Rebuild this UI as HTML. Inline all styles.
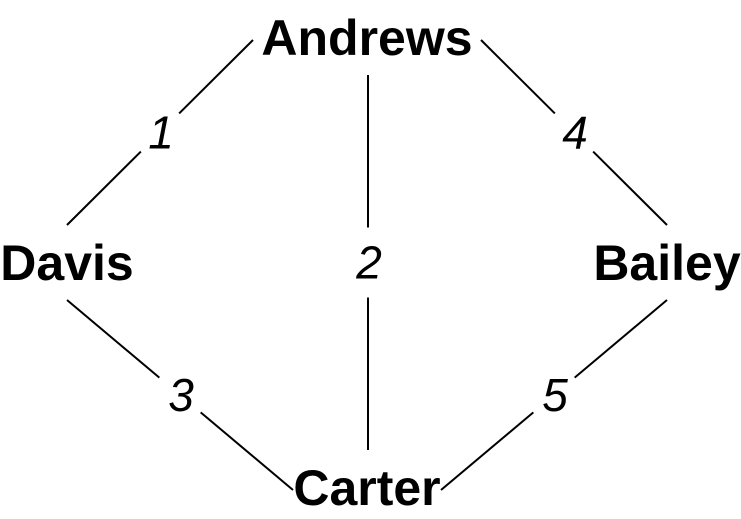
<!DOCTYPE html>
<html><head><meta charset="utf-8"><style>
html,body{margin:0;padding:0;background:#fff;}
svg{display:block;}
</style></head><body>
<svg id="g" width="741" height="519" viewBox="0 0 741 519" xmlns="http://www.w3.org/2000/svg"></svg>
<script>
const nodeNames = ["Andrews","Davis","Bailey","Carter"];
const nodeX = [367, 67, 667, 367];
const nodeY = [37, 262, 262, 487];
const edgeFrom = [0, 0, 0, 1, 2];
const edgeTo = [1, 3, 2, 3, 3];
const edgeWeights = ["1","2","4","3","5"];
const svg = document.getElementById('g');
const NS = "http://www.w3.org/2000/svg";
// anchor offset from node center, depending on direction to other node
function anchor(i, j){
  const dx = nodeX[j]-nodeX[i], dy = nodeY[j]-nodeY[i];
  const name = nodeNames[i];
  if (Math.abs(dx) < 1) return [nodeX[i]+1, nodeY[i] + (dy>0 ? 38 : -37)];
  if (name === "Andrews" || name === "Carter") {
    const ox = name === "Andrews" ? 114 : 74;
    return [nodeX[i] + Math.sign(dx)*ox, nodeY[i]+3];
  }
  return [nodeX[i], nodeY[i] + (dy>0 ? 38 : -37)];
}
for(let i=0;i<edgeFrom.length;i++){
  const a=edgeFrom[i], b=edgeTo[i];
  const p=anchor(a,b), q=anchor(b,a);
  const mx=(p[0]+q[0])/2, my=(p[1]+q[1])/2;
  const len=Math.hypot(q[0]-p[0],q[1]-p[1]);
  const ux=(q[0]-p[0])/len, uy=(q[1]-p[1])/len;
  const gap = Math.abs(ux) < 0.01 ? 35 : 27;
  [[p[0],p[1],mx-ux*gap,my-uy*gap],[mx+ux*gap,my+uy*gap,q[0],q[1]]].forEach(s=>{
    const l=document.createElementNS(NS,'line');
    l.setAttribute('x1',s[0]);l.setAttribute('y1',s[1]);l.setAttribute('x2',s[2]);l.setAttribute('y2',s[3]);
    l.setAttribute('stroke','#000');l.setAttribute('stroke-width','2');
    
    
    svg.appendChild(l);
  });
  const t=document.createElementNS(NS,'text');
  t.setAttribute('x',mx+1);t.setAttribute('y',my+16);
  t.setAttribute('text-anchor','middle');
  t.setAttribute('font-family','Liberation Sans, sans-serif');
  t.setAttribute('font-style','italic');t.setAttribute('font-size','46');
  t.textContent=edgeWeights[i];
  
  
  svg.appendChild(t);
}
for(let i=0;i<nodeNames.length;i++){
  const t=document.createElementNS(NS,'text');
  t.setAttribute('x',nodeX[i]);t.setAttribute('y',nodeY[i]+18);
  t.setAttribute('text-anchor','middle');
  t.setAttribute('font-family','Liberation Sans, sans-serif');
  t.setAttribute('font-weight','bold');t.setAttribute('font-size','50');
  t.textContent=nodeNames[i];
  
  
  svg.appendChild(t);
}
</script>
</body></html>
